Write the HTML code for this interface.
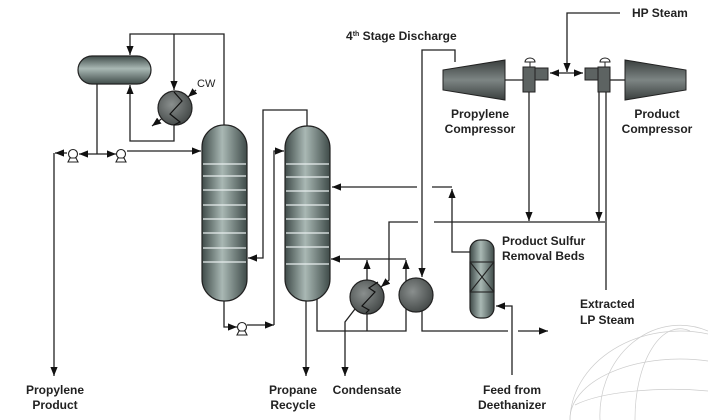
<!DOCTYPE html>
<html><head><meta charset="utf-8"><style>
html,body{margin:0;padding:0;background:#fff;width:708px;height:420px;overflow:hidden;}
svg{display:block;}
text{font-family:"Liberation Sans",Arial,sans-serif;font-weight:bold;font-size:12px;fill:#222;}
</style></head><body>
<svg width="708" height="420" viewBox="0 0 708 420" xmlns="http://www.w3.org/2000/svg">
<defs>
<linearGradient id="gv" x1="0" x2="1" y1="0" y2="0">
<stop offset="0" stop-color="#3f4b49"/><stop offset="0.45" stop-color="#a9b8b4"/><stop offset="1" stop-color="#3f4b49"/></linearGradient>
<linearGradient id="gh" x1="0" x2="0" y1="0" y2="1">
<stop offset="0" stop-color="#3f4b49"/><stop offset="0.45" stop-color="#a9b8b4"/><stop offset="1" stop-color="#3f4b49"/></linearGradient>
<radialGradient id="gc" cx="0.4" cy="0.4" r="0.7"><stop offset="0" stop-color="#8a8f8e"/><stop offset="1" stop-color="#3e4342"/></radialGradient>
<linearGradient id="gt" x1="0" x2="0" y1="0" y2="1"><stop offset="0" stop-color="#3a3f3e"/><stop offset="0.5" stop-color="#7d8584"/><stop offset="1" stop-color="#3a3f3e"/></linearGradient>
<marker id="a" viewBox="0 0 10 10" refX="10" refY="5" markerWidth="7" markerHeight="7" orient="auto"><path d="M0,1 L10,5 L0,9 z" fill="#111"/></marker>
<clipPath id="cp"><rect x="0" y="0" width="708" height="420"/></clipPath>
</defs>
<g stroke="#222" stroke-width="1.3" fill="none">
<polyline points="224,125 224,34 130,34 130,55" marker-end="url(#a)"/>
<polyline points="174,34 174,90" marker-end="url(#a)"/>
<polyline points="174,124 174,141 130,141 130,85" marker-end="url(#a)"/>
<line x1="196" y1="90" x2="188" y2="97" marker-end="url(#a)"/>
<line x1="164" y1="117" x2="152" y2="126" marker-end="url(#a)"/>
<polyline points="97,84 97,154"/>
<line x1="97" y1="154" x2="79" y2="154" marker-end="url(#a)"/>
<line x1="97" y1="154" x2="116" y2="154" marker-end="url(#a)"/>
<line x1="127" y1="151" x2="201" y2="151" marker-end="url(#a)"/>
<line x1="67" y1="153" x2="55" y2="153" marker-end="url(#a)"/>
<polyline points="54,153 54,376" marker-end="url(#a)"/>
<polyline points="307,126 307,110 263,110 263,258 248,258" marker-end="url(#a)"/>
<polyline points="224,300 224,327 237,327" marker-end="url(#a)"/>
<polyline points="247,325 274,325" marker-end="url(#a)"/>
<polyline points="274,325 274,151 284,151" marker-end="url(#a)"/>
<polyline points="306,300 306,376" marker-end="url(#a)"/>
<polyline points="317,298 317,331 406,331 406,260" marker-end="url(#a)"/>
<polyline points="367,331 367,260" marker-end="url(#a)"/>
<polyline points="406,259 331,259" marker-end="url(#a)"/>
<polyline points="355,309 345,322 345,376" marker-end="url(#a)"/>
<polyline points="418,222 389,222 389,280 381,287" marker-end="url(#a)"/>
<line x1="434" y1="222" x2="605" y2="222"/>
<polyline points="455,62 455,50 422,50 422,277" marker-end="url(#a)"/>
<polyline points="422,311 422,331 508,331"/>
<line x1="518" y1="331" x2="548" y2="331" marker-end="url(#a)"/>
<line x1="417" y1="187" x2="332" y2="187" marker-end="url(#a)"/>
<line x1="432" y1="187" x2="452" y2="187"/>
<polyline points="470,252 452,252 452,189" marker-end="url(#a)"/>
<polyline points="512,375 512,306 496,306" marker-end="url(#a)"/>
<line x1="505" y1="80" x2="524" y2="80"/>
<line x1="610" y1="80" x2="626" y2="80"/>
<polyline points="529,92 529,221" marker-end="url(#a)"/>
<polyline points="599,92 599,221" marker-end="url(#a)"/>
<polyline points="606,92 606,290"/>
<line x1="566" y1="73" x2="550" y2="73" marker-end="url(#a)"/>
<line x1="566" y1="73" x2="583" y2="73" marker-end="url(#a)"/>
<polyline points="620,13 567,13 567,72" marker-end="url(#a)"/>
</g>
<rect x="78" y="56" width="73" height="28" rx="14" fill="url(#gh)" stroke="#222" stroke-width="1.2"/>
<circle cx="175" cy="108" r="17" fill="url(#gc)" stroke="#222" stroke-width="1.2"/>
<polyline points="174,92 182,101 170,114 180,122 174,125" fill="none" stroke="#111" stroke-width="1.2"/>
<text x="197" y="87" style="font-weight:normal;font-size:11px">CW</text>
<g fill="#fff" stroke="#222" stroke-width="1.1">
<circle cx="73" cy="154" r="4.5"/><path d="M68,162 L70,158 L76,158 L78,162 z"/>
<circle cx="121" cy="154" r="4.5"/><path d="M116,162 L118,158 L124,158 L126,162 z"/>
<circle cx="242" cy="327" r="4.5"/><path d="M237,335 L239,331 L245,331 L247,335 z"/>
</g>
<rect x="202" y="125" width="45" height="176" rx="22" fill="url(#gv)" stroke="#222" stroke-width="1.2"/>
<rect x="285" y="126" width="45" height="175" rx="22" fill="url(#gv)" stroke="#222" stroke-width="1.2"/>
<g stroke="#e8eeee" stroke-width="1.2">
<line x1="203" y1="164" x2="246" y2="164"/><line x1="203" y1="176" x2="246" y2="176"/><line x1="203" y1="190" x2="246" y2="190"/><line x1="203" y1="205" x2="246" y2="205"/><line x1="203" y1="219" x2="246" y2="219"/><line x1="203" y1="233" x2="246" y2="233"/><line x1="203" y1="248" x2="246" y2="248"/><line x1="203" y1="262" x2="246" y2="262"/>
<line x1="286" y1="164" x2="329" y2="164"/><line x1="286" y1="177" x2="329" y2="177"/><line x1="286" y1="191" x2="329" y2="191"/><line x1="286" y1="205" x2="329" y2="205"/><line x1="286" y1="219" x2="329" y2="219"/><line x1="286" y1="233" x2="329" y2="233"/><line x1="286" y1="247" x2="329" y2="247"/><line x1="286" y1="264" x2="329" y2="264"/>
</g>
<circle cx="367" cy="297" r="17" fill="url(#gc)" stroke="#222" stroke-width="1.2"/>
<polyline points="378,282 369,288 375,292 362,306 369,310 366,313" fill="none" stroke="#111" stroke-width="1.2"/>
<circle cx="416" cy="295" r="17" fill="url(#gc)" stroke="#222" stroke-width="1.2"/>
<rect x="470" y="240" width="24" height="78" rx="10" fill="url(#gv)" stroke="#222" stroke-width="1.2"/>
<g stroke="#222" stroke-width="1.1" fill="none"><rect x="470" y="262" width="24" height="30"/><line x1="470" y1="262" x2="494" y2="292"/><line x1="494" y1="262" x2="470" y2="292"/></g>
<path d="M443,70 L505,60 L505,100 L443,90 z" fill="url(#gt)" stroke="#222"/>
<path d="M625,60 L686,70 L686,90 L625,100 z" fill="url(#gt)" stroke="#222"/>
<g fill="#5d6362" stroke="#222" stroke-width="1">
<rect x="523" y="67" width="12" height="25"/><rect x="535" y="68" width="13" height="12"/>
<rect x="598" y="67" width="12" height="25"/><rect x="585" y="68" width="13" height="12"/>
</g>
<g fill="#fff" stroke="#222" stroke-width="1">
<path d="M525,62 a5,4 0 0 1 10,0 z"/><line x1="530" y1="62" x2="530" y2="67"/>
<path d="M600,62 a5,4 0 0 1 10,0 z"/><line x1="605" y1="62" x2="605" y2="67"/>
</g>
<g stroke="#ccc" stroke-width="0.7" fill="none">
<path d="M570,420 A110,90 0 0 1 708,334"/>
<path d="M600,420 A80,90 0 0 1 708,331"/>
<path d="M635,420 A45,90 0 0 1 690,331"/>
<path d="M570,420 A110,60 0 0 1 708,361"/>
<path d="M575,405 A110,30 0 0 1 708,391"/>
</g>
<text x="346" y="40">4<tspan font-size="7" dy="-4">th</tspan><tspan dy="4"> Stage Discharge</tspan></text>
<text x="632" y="17">HP Steam</text>
<text x="480" y="118" text-anchor="middle">Propylene</text>
<text x="480" y="133" text-anchor="middle">Compressor</text>
<text x="657" y="118" text-anchor="middle">Product</text>
<text x="657" y="133" text-anchor="middle">Compressor</text>
<text x="502" y="245">Product Sulfur</text>
<text x="502" y="260">Removal Beds</text>
<text x="580" y="308">Extracted</text>
<text x="580" y="324">LP Steam</text>
<text x="55" y="394" text-anchor="middle">Propylene</text>
<text x="55" y="409" text-anchor="middle">Product</text>
<text x="293" y="394" text-anchor="middle">Propane</text>
<text x="293" y="409" text-anchor="middle">Recycle</text>
<text x="367" y="394" text-anchor="middle">Condensate</text>
<text x="512" y="394" text-anchor="middle">Feed from</text>
<text x="512" y="409" text-anchor="middle">Deethanizer</text>
</svg>
</body></html>
